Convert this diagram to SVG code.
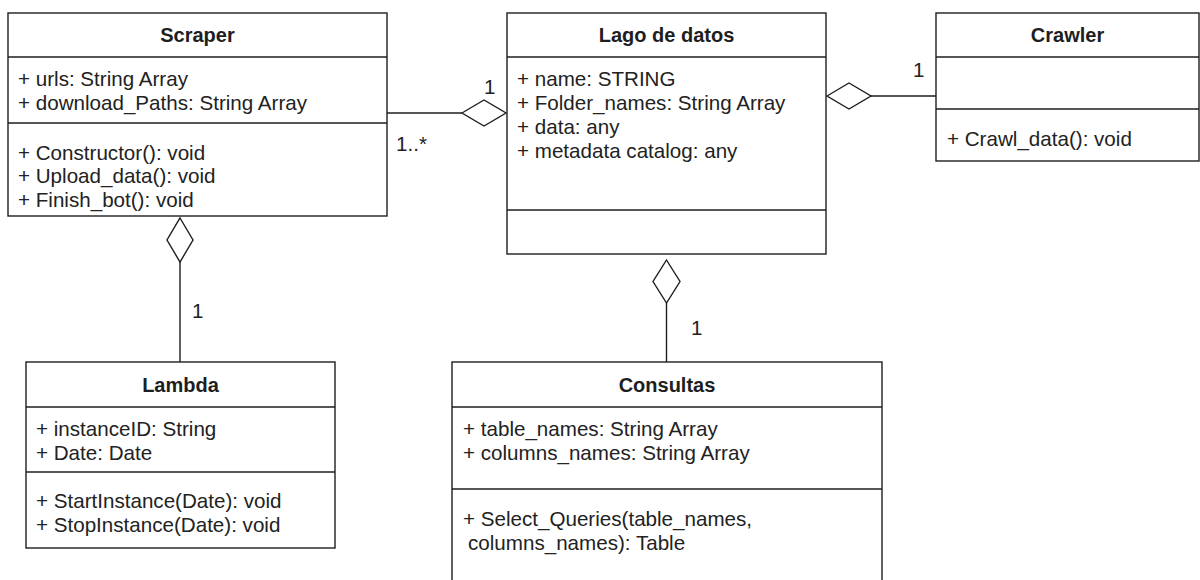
<svg xmlns="http://www.w3.org/2000/svg" width="1200" height="580" viewBox="0 0 1200 580">
  <style>
    .box { fill: #ffffff; stroke: #1e1e1e; stroke-width: 1.4; }
    .sep { stroke: #1e1e1e; stroke-width: 1.4; fill: none; }
    .title { font-family: "Liberation Sans", Arial, sans-serif; font-size: 20px; font-weight: bold; fill: #1e1e1e; text-anchor: middle; }
    .txt { font-family: "Liberation Sans", Arial, sans-serif; font-size: 20.6px; fill: #222222; }
    .edge { stroke: #1e1e1e; stroke-width: 1.4; fill: none; }
    .agg { fill: #ffffff; stroke: #1e1e1e; stroke-width: 1.4; stroke-linejoin: miter; }
  </style>
  <rect width="1200" height="580" fill="#ffffff"/>

  <!-- associations (hollow diamond = aggregation) -->
  <g id="connectors">
    <!-- Scraper - Lago de datos -->
    <line class="edge" x1="387" y1="113" x2="462" y2="113"/>
    <polygon class="agg" points="462,113 484,100 506,113 484,126"/>
    <text class="txt" x="484" y="94">1</text>
    <text class="txt" x="396" y="151">1..*</text>
    <!-- Lago de datos - Crawler -->
    <line class="edge" x1="871" y1="96" x2="936" y2="96"/>
    <polygon class="agg" points="827,96 849,83 871,96 849,109"/>
    <text class="txt" x="913" y="77">1</text>
    <!-- Scraper - Lambda -->
    <line class="edge" x1="180" y1="262" x2="180" y2="362"/>
    <polygon class="agg" points="180,218 193,240 180,262 167,240"/>
    <text class="txt" x="192" y="318">1</text>
    <!-- Lago de datos - Consultas -->
    <line class="edge" x1="666.5" y1="303" x2="666.5" y2="362"/>
    <polygon class="agg" points="666.5,260 680,281.5 666.5,303 653,281.5"/>
    <text class="txt" x="691" y="335">1</text>
  </g>

  <g id="scraper">
    <rect class="box" x="8" y="13" width="379" height="203"/>
    <line class="sep" x1="8" y1="57" x2="387" y2="57"/>
    <line class="sep" x1="8" y1="123" x2="387" y2="123"/>
    <text class="title" x="197.5" y="42">Scraper</text>
    <text class="txt" x="18" y="86">+ urls: String Array</text>
    <text class="txt" x="18" y="110">+ download_Paths: String Array</text>
    <text class="txt" x="18" y="159.5">+ Constructor(): void</text>
    <text class="txt" x="18" y="183">+ Upload_data(): void</text>
    <text class="txt" x="18" y="206.5">+ Finish_bot(): void</text>
  </g>

  <g id="lago-de-datos">
    <rect class="box" x="507" y="13" width="319" height="241"/>
    <line class="sep" x1="507" y1="57" x2="826" y2="57"/>
    <line class="sep" x1="507" y1="210" x2="826" y2="210"/>
    <text class="title" x="666.5" y="42">Lago de datos</text>
    <text class="txt" x="517" y="86">+ name: STRING</text>
    <text class="txt" x="517" y="110">+ Folder_names: String Array</text>
    <text class="txt" x="517" y="134">+ data: any</text>
    <text class="txt" x="517" y="157.5">+ metadata catalog: any</text>
  </g>

  <g id="crawler">
    <rect class="box" x="936" y="13" width="263" height="148"/>
    <line class="sep" x1="936" y1="57" x2="1199" y2="57"/>
    <line class="sep" x1="936" y1="109" x2="1199" y2="109"/>
    <text class="title" x="1067.5" y="42">Crawler</text>
    <text class="txt" x="947" y="146">+ Crawl_data(): void</text>
  </g>

  <g id="lambda">
    <rect class="box" x="26" y="362" width="309" height="186"/>
    <line class="sep" x1="26" y1="407" x2="335" y2="407"/>
    <line class="sep" x1="26" y1="472" x2="335" y2="472"/>
    <text class="title" x="180.5" y="392">Lambda</text>
    <text class="txt" x="36" y="436">+ instanceID: String</text>
    <text class="txt" x="36" y="460">+ Date: Date</text>
    <text class="txt" x="36" y="508">+ StartInstance(Date): void</text>
    <text class="txt" x="36" y="531.5">+ StopInstance(Date): void</text>
  </g>

  <g id="consultas">
    <rect class="box" x="452" y="362" width="430" height="260"/>
    <line class="sep" x1="452" y1="407" x2="882" y2="407"/>
    <line class="sep" x1="452" y1="489" x2="882" y2="489"/>
    <text class="title" x="667" y="392">Consultas</text>
    <text class="txt" x="463" y="436">+ table_names: String Array</text>
    <text class="txt" x="463" y="460">+ columns_names: String Array</text>
    <text class="txt" x="463" y="526">+ Select_Queries(table_names,</text>
    <text class="txt" x="468" y="549.5">columns_names): Table</text>
  </g>
</svg>
